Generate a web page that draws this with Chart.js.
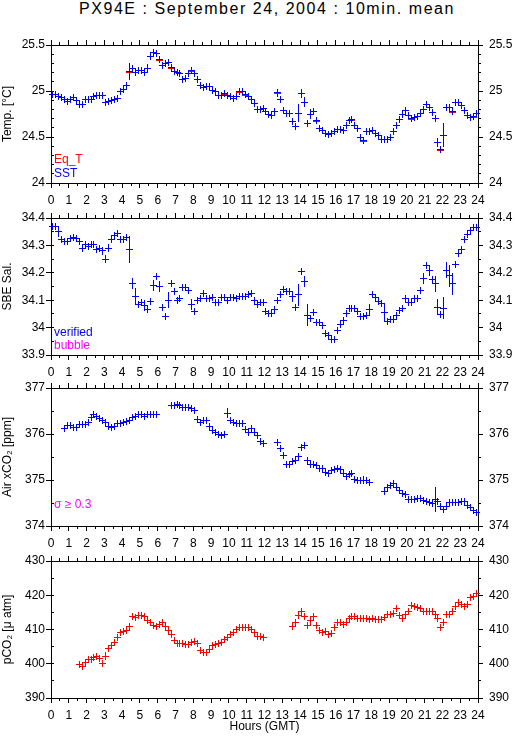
<!DOCTYPE html>
<html>
<head>
<meta charset="utf-8">
<title>PX94E : September 24, 2004 : 10min. mean</title>
<script src="https://cdn.jsdelivr.net/npm/chart.js@4.4.1/dist/chart.umd.min.js"></script>
<style>
  html, body { margin:0; padding:0; background:#fff; }
  body { position:relative; width:515px; height:739px; overflow:hidden; font-family:'Liberation Sans', Arial, Helvetica, sans-serif; }
  canvas { position:absolute; left:0; display:block; }
  #title { position:absolute; left:0; top:0; width:534px; text-align:center; font-size:16px; line-height:17px; letter-spacing:1.55px; color:#000; white-space:nowrap; }
  .lg { position:absolute; left:54px; font-size:12px; line-height:14px; white-space:nowrap; }
</style>
</head>
<body>
<div id="title">PX94E : September 24, 2004 : 10min. mean</div>
<canvas id="c1" width="515" height="178" style="top:30px"></canvas>
<canvas id="c2" width="515" height="177" style="top:203px"></canvas>
<canvas id="c3" width="515" height="178" style="top:373px"></canvas>
<canvas id="c4" width="515" height="193" style="top:546px"></canvas>
<div class="lg" style="top:152px;color:#ff0000">Eq_T</div>
<div class="lg" style="top:166px;color:#0000ff">SST</div>
<div class="lg" style="top:325px;color:#0000ff">verified</div>
<div class="lg" style="top:338px;color:#ff00ff">bubble</div>
<div class="lg" style="top:497px;color:#ff00ff">σ ≥ 0.3</div>
<script>
// ---------- DATA (10-minute means, bins centred at hh:05, hh:15, ...) ----------
const hours = Array.from({length: 144}, (_, i) => (i * 10 + 5) / 60);
const xTickLabels = ['0','1','2','3','4','5','6','7','8','9','10','11','12','13','14','15','16','17','18','19','20','21','22','23','24'];

const sst = [
  24.96,24.96,24.94,24.93,24.91,24.89,24.91,24.93,24.90,24.85,
  24.85,24.91,24.91,24.91,24.94,24.95,24.95,24.95,24.87,24.89,
  24.90,24.91,24.92,25.00,25.02,25.06,25.21,25.24,25.20,25.22,
  25.22,25.20,25.25,25.37,25.42,25.41,25.34,25.28,25.30,25.31,
  25.26,25.21,25.20,25.19,25.12,25.14,25.19,25.22,25.19,25.13,
  25.06,25.04,25.05,25.05,25.01,24.99,24.95,24.95,24.97,24.95,
  24.94,24.92,24.94,24.99,25.00,24.96,24.94,24.91,24.86,24.80,
  24.80,24.81,24.78,24.74,24.73,24.78,24.98,24.91,24.79,24.76,
  24.76,24.67,24.61,24.76,24.97,24.88,24.65,24.75,24.78,24.68,
  24.59,24.57,24.54,24.53,24.54,24.56,24.58,24.58,24.57,24.63,
  24.68,24.69,24.63,24.59,24.50,24.46,24.56,24.56,24.57,24.54,
  24.52,24.47,24.47,24.47,24.49,24.56,24.63,24.69,24.75,24.79,
  24.73,24.70,24.71,24.72,24.76,24.80,24.85,24.82,24.77,24.70,
  24.44,24.36,24.52,24.82,24.82,24.78,24.88,24.88,24.84,24.79,
  24.73,24.71,24.72,24.76
];
const sstErr = {17:0.03,26:0.09,27:0.02,32:0.04,36:0.02,44:0.02,45:0.02,75:0.04,76:0.04,77:0.04,
  81:0.03,83:0.10,84:0.05,85:0.05,86:0.04,87:0.05,88:0.02,129:0.04,130:0.05,132:0.13,133:0.04,134:0.04,135:0.04,143:0.03};
// Equilibrator temperature: only where it shows apart from SST
const eqTPoints = {26:25.20,32:25.24,36:25.33,40:25.25,47:25.21,58:24.96,63:24.98,65:24.95,
  76:24.97,89:24.67,101:24.68,105:24.45,121:24.69,131:24.35,135:24.77,142:24.71};

const salinity = [
  34.37,34.37,34.35,34.32,34.315,34.315,34.325,34.33,34.325,34.315,
  34.29,34.305,34.295,34.305,34.305,34.285,34.29,34.28,34.25,34.29,
  34.32,34.335,34.345,34.32,34.32,34.33,34.285,34.16,34.115,34.085,
  34.09,34.08,34.065,34.095,34.155,34.185,34.15,34.075,34.04,34.10,
  34.16,34.13,34.10,34.105,34.145,34.145,34.135,34.085,34.06,34.10,
  34.105,34.125,34.105,34.105,34.11,34.09,34.09,34.11,34.11,34.10,
  34.11,34.11,34.105,34.115,34.115,34.115,34.12,34.125,34.10,34.085,
  34.09,34.09,34.06,34.05,34.052,34.065,34.10,34.12,34.14,34.13,
  34.13,34.115,34.075,34.12,34.205,34.17,34.045,34.035,34.055,34.018,
  34.017,34.006,33.98,33.97,33.955,33.955,33.99,34.01,34.025,34.05,
  34.068,34.068,34.068,34.057,34.04,34.04,34.045,34.065,34.12,34.11,
  34.095,34.088,34.055,34.023,34.03,34.03,34.045,34.063,34.07,34.105,
  34.09,34.09,34.105,34.105,34.135,34.18,34.225,34.21,34.175,34.16,
  34.075,34.048,34.07,34.21,34.19,34.16,34.23,34.27,34.285,34.32,
  34.34,34.355,34.365,34.365
];
const salErr = {2:0.02,17:0.015,18:0.015,19:0.015,26:0.05,27:0.02,28:0.03,31:0.02,32:0.01,34:0.02,36:0.02,
  37:0.01,38:0.01,39:0.03,41:0.01,43:0.01,44:0.01,47:0.02,68:0.01,72:0.01,76:0.01,81:0.02,83:0.04,85:0.02,
  86:0.04,87:0.01,95:0.01,96:0.01,98:0.01,107:0.02,112:0.03,116:0.01,120:0.01,125:0.02,127:0.02,129:0.03,
  130:0.03,132:0.04,133:0.03,134:0.04,135:0.04,137:0.01,139:0.01};

const airXco2 = [
  null,null,null,null,376.12,376.18,376.18,376.14,376.14,376.20,
  376.20,376.20,376.25,376.36,376.43,376.38,376.34,376.30,376.25,376.16,
  376.14,376.16,376.22,376.23,376.25,376.27,376.30,376.36,376.39,376.43,
  376.42,376.39,376.42,376.43,376.43,376.43,null,null,null,null,
  376.62,376.62,376.64,376.62,376.57,376.57,376.57,376.56,376.52,376.32,
  376.26,376.30,376.30,376.17,376.07,376.04,375.98,375.97,376.00,376.45,
  376.30,376.26,376.23,376.23,376.23,376.09,376.04,376.12,376.04,375.97,
  375.83,375.80,null,null,null,null,375.81,375.69,375.53,375.33,
  375.33,375.40,375.43,375.52,375.71,375.74,375.43,375.33,375.33,375.31,
  375.25,375.24,375.17,375.14,375.20,375.23,375.25,375.23,375.15,375.07,
  375.11,375.15,375.02,375.00,374.98,375.00,375.00,374.94,null,null,
  null,null,374.75,374.84,374.89,374.93,374.84,374.78,374.70,374.69,
  374.58,374.57,374.57,374.60,374.60,374.55,374.53,374.51,374.48,374.58,
  374.54,374.43,374.36,374.43,374.51,374.51,374.51,374.51,374.53,374.53,
  374.45,374.40,374.33,374.29
];
const airErr = {4:0.07,13:0.05,14:0.03,20:0.02,31:0.03,48:0.02,51:0.04,59:0.11,60:0.03,67:0.03,69:0.03,
  71:0.03,77:0.03,79:0.04,83:0.03,84:0.07,85:0.02,86:0.02,92:0.02,93:0.04,95:0.06,96:0.04,97:0.07,98:0.04,
  101:0.03,105:0.08,115:0.03,129:0.27};

const pco2 = [
  null,null,null,null,null,null,null,null,null,399.8,
  399.1,400.4,401.3,401.3,401.9,402.0,401.5,400.1,402.2,404.4,
  405.4,406.1,407.6,409.2,409.4,409.8,411.0,413.8,413.5,414.2,
  414.1,413.8,412.7,412.1,411.3,410.9,411.5,411.9,410.9,409.8,
  408.6,406.9,405.9,405.9,405.9,405.7,405.5,406.3,406.5,405.8,
  403.9,403.4,403.3,404.2,405.3,405.7,406.0,406.3,407.1,407.7,
  408.5,409.2,409.9,410.5,410.7,410.7,410.5,409.9,409.0,408.1,
  407.9,407.8,null,null,null,null,null,null,null,null,
  null,411.0,412.1,414.0,415.2,413.7,411.1,412.5,413.7,411.1,
  409.8,409.2,409.4,408.6,408.9,410.7,411.9,412.1,411.4,412.1,
  413.1,413.7,413.7,413.2,413.2,413.2,413.2,413.0,413.2,413.0,
  413.0,412.8,413.6,414.3,414.3,414.6,416.1,414.0,413.3,414.4,
  415.2,416.9,416.8,416.3,416.0,415.2,415.2,415.2,415.2,414.5,
  413.1,410.7,411.9,414.3,414.3,415.3,416.6,418.0,417.3,416.6,
  417.3,419.3,419.6,420.5
];
const pco2Err = {18:1.2,21:0.6,26:1.0,38:0.6,68:0.5,81:0.8,83:0.8,85:0.6,86:0.8,87:1.2,116:0.8,117:0.6,130:0.8,132:1.0};

// ---------- STYLE ----------
const FONT = "'Liberation Sans', Arial, Helvetica, sans-serif";
Chart.defaults.font.family = FONT;
Chart.defaults.font.size = 12;
Chart.defaults.color = '#000';

function crossImg(r, g, b) {
  const c = document.createElement('canvas');
  c.width = 7; c.height = 7;
  const x = c.getContext('2d');
  x.fillStyle = 'rgb(' + r + ',' + g + ',' + b + ')';
  x.fillRect(0, 3, 7, 1);
  x.fillRect(3, 0, 1, 7);
  return c;
}
function dashImg(r, g, b) {
  const c = document.createElement('canvas');
  c.width = 7; c.height = 1;
  const x = c.getContext('2d');
  x.fillStyle = 'rgb(' + r + ',' + g + ',' + b + ')';
  x.fillRect(0, 0, 7, 1);
  return c;
}
// 1-px wide bar image, stretched vertically by drawImage
function barImg(r, g, b) {
  const c = document.createElement('canvas');
  c.width = 1; c.height = 1;
  const x = c.getContext('2d');
  x.fillStyle = 'rgb(' + r + ',' + g + ',' + b + ')';
  x.fillRect(0, 0, 1, 1);
  return c;
}

// vertical error bars drawn through the chart's own scales (closure, no option proxies)
function makeErrorPlugin(errors, img) {
  return {
    id: 'errorBars',
    beforeDraw(chart) { chart.ctx.imageSmoothingEnabled = false; },
    afterDatasetsDraw(chart) {
      const ctx = chart.ctx;
      const meta = chart.getDatasetMeta(0);
      const ys = chart.scales.y;
      const values = chart.data.datasets[0].data;
      ctx.save();
      ctx.imageSmoothingEnabled = false;
      meta.data.forEach((el, i) => {
        const e = errors[i];
        const v = values[i];
        if (!e || v == null) return;
        const px = Math.ceil(el.x) - 1;
        const y1 = Math.round(ys.getPixelForValue(v + e));
        const y2 = Math.round(ys.getPixelForValue(v - e));
        ctx.drawImage(img, px, y1, 1, Math.max(1, y2 - y1));
      });
      ctx.restore();
    }
  };
}

const fmt = v => String(Math.round(v * 1000) / 1000);

function makeScales(o) {
  const blackGrid = (len) => ({ drawOnChartArea: false, drawTicks: true, tickLength: len, color: '#000', tickColor: '#000', lineWidth: 1 });
  const xBase = { type: 'linear', min: 0, max: 24, display: true };
  return {
    x: Object.assign({}, xBase, {
      position: 'bottom', weight: 1,
      ticks: { stepSize: 1, autoSkip: false, maxRotation: 0, minRotation: 0, padding: 5, color: '#000',
               font: { family: FONT, size: 12 }, callback: (v) => xTickLabels[Math.round(v)] },
      grid: blackGrid(5),
      border: { display: true, color: '#000', width: 1 },
      title: o.xTitle ? { display: true, text: o.xTitle, color: '#000', font: { family: FONT, size: 12 }, padding: { top: 0, bottom: 5 } } : { display: false },
      afterFit: (s) => { s.height = o.bottomH; }
    }),
    xm: Object.assign({}, xBase, {
      position: 'bottom', weight: 0,
      ticks: { stepSize: 0.5, autoSkip: false, display: false },
      grid: blackGrid(3), border: { display: false },
      afterFit: (s) => { s.height = 0; }
    }),
    xt: Object.assign({}, xBase, {
      position: 'top', weight: 1,
      ticks: { stepSize: 1, autoSkip: false, display: false },
      grid: blackGrid(5), border: { display: true, color: '#000', width: 1 },
      afterFit: (s) => { s.height = 15; }
    }),
    xtm: Object.assign({}, xBase, {
      position: 'top', weight: 0,
      ticks: { stepSize: 0.5, autoSkip: false, display: false },
      grid: blackGrid(3), border: { display: false },
      afterFit: (s) => { s.height = 0; }
    }),
    y: {
      type: 'linear', position: 'left', weight: 1, min: o.min, max: o.max, display: true,
      ticks: { stepSize: o.major, autoSkip: false, padding: 1, color: '#000', font: { family: FONT, size: 12 }, callback: fmt },
      grid: blackGrid(5), border: { display: true, color: '#000', width: 1 },
      title: { display: true, text: o.yTitle, color: '#000', font: { family: FONT, size: 12 }, padding: { top: 0, bottom: 0 } },
      afterFit: (s) => { s.width = 51; }
    },
    ym: {
      type: 'linear', position: 'left', weight: 0, min: o.min, max: o.max, display: true,
      ticks: { stepSize: o.minor, autoSkip: false, display: false },
      grid: blackGrid(-3), border: { display: false },
      afterFit: (s) => { s.width = 0; }
    },
    yr: {
      type: 'linear', position: 'right', weight: 1, min: o.min, max: o.max, display: true,
      ticks: { stepSize: o.major, autoSkip: false, padding: 6, color: '#000', font: { family: FONT, size: 12 }, callback: fmt },
      grid: blackGrid(5), border: { display: true, color: '#000', width: 1 },
      afterFit: (s) => { s.width = 37; }
    },
    yrm: {
      type: 'linear', position: 'right', weight: 0, min: o.min, max: o.max, display: true,
      ticks: { stepSize: o.minor, autoSkip: false, display: false },
      grid: blackGrid(3), border: { display: false },
      afterFit: (s) => { s.width = 0; }
    }
  };
}

function series(label, data, colorStr, img) {
  return {
    label, data,
    borderColor: colorStr, backgroundColor: colorStr,
    showLine: false, clip: false,
    pointStyle: img, pointRadius: 3, pointHoverRadius: 3,
    xAxisID: 'x', yAxisID: 'y'
  };
}

function panel(id, o) {
  return new Chart(document.getElementById(id), {
    type: 'line',
    data: { labels: hours, datasets: o.datasets },
    options: {
      responsive: false, animation: false, events: [],
      layout: { padding: 0 },
      plugins: { legend: { display: false }, tooltip: { enabled: false }, title: { display: false } },
      scales: makeScales(o)
    },
    plugins: [makeErrorPlugin(o.errors, o.barImage)]
  });
}

const eqT = hours.map((_, i) => (eqTPoints[i] !== undefined ? eqTPoints[i] : null));

panel('c1', { min: 24, max: 25.5, major: 0.5, minor: 0.1, yTitle: 'Temp. [°C]', bottomH: 25,
  datasets: [ series('SST', sst, 'rgb(0,0,255)', crossImg(0,0,255)),
              series('Eq_T', eqT, 'rgb(255,0,0)', dashImg(255,0,0)) ],
  errors: sstErr, barImage: barImg(0,0,255) });
panel('c2', { min: 33.9, max: 34.4, major: 0.1, minor: 0.05, yTitle: 'SBE Sal.', bottomH: 25,
  datasets: [ series('verified', salinity, 'rgb(0,0,255)', crossImg(0,0,255)) ],
  errors: salErr, barImage: barImg(0,0,255) });
panel('c3', { min: 374, max: 377, major: 1, minor: 0.5, yTitle: 'Air xCO₂ [ppm]', bottomH: 25,
  datasets: [ series('Air xCO2', airXco2, 'rgb(0,0,255)', crossImg(0,0,255)) ],
  errors: airErr, barImage: barImg(0,0,255) });
panel('c4', { min: 390, max: 430, major: 10, minor: 5, yTitle: 'pCO₂ [μ atm]', bottomH: 41, xTitle: 'Hours (GMT)',
  datasets: [ series('pCO2', pco2, 'rgb(255,0,0)', crossImg(255,0,0)) ],
  errors: pco2Err, barImage: barImg(255,0,0) });
</script>
</body>
</html>
